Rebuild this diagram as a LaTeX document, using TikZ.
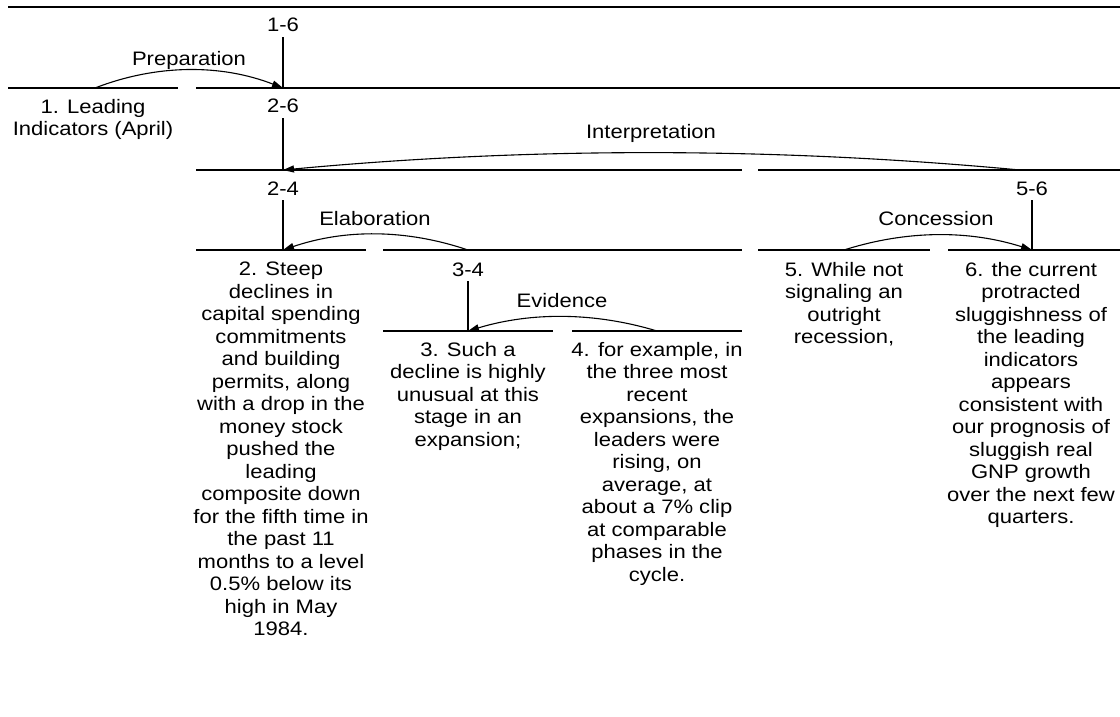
\documentclass[tikz,border=0pt]{standalone}
\usepackage{fontspec}
\setmainfont{Liberation Sans}[FakeStretch=1.13]
\usetikzlibrary{arrows.meta}
\newcommand{\rstfont}{\fontsize{19.5}{22.5}\selectfont}
\begin{document}
\begin{tikzpicture}[x=1pt,y=-1pt,
  bar/.style={line width=1.4pt},
  stem/.style={line width=1.4pt},
  rel/.style={line width=1.1pt,-{Triangle[length=11pt,width=7pt]}},
  lab/.style={inner sep=0pt,anchor=base,font=\rstfont},
  seg/.style={inner sep=0pt,anchor=north,align=center,font=\rstfont}]
\useasboundingbox[fill=white] (0,0) rectangle (1120,717);
% horizontal bars
\draw[bar] (8,7) -- (1120,7);
\draw[bar] (8,88) -- (178,88);
\draw[bar] (196,88) -- (1120,88);
\draw[bar] (196,170) -- (742,170);
\draw[bar] (758,170) -- (1120,170);
\draw[bar] (196,250) -- (366,250);
\draw[bar] (383,250) -- (742,250);
\draw[bar] (758,250) -- (930,250);
\draw[bar] (948,250) -- (1120,250);
\draw[bar] (383,331) -- (553,331);
\draw[bar] (572,331) -- (742,331);
% span labels
\node[lab] (s16) at (283,32) {1-6};
\node[lab] (s26) at (283,113) {2-6};
\node[lab] (s24) at (283,195) {2-4};
\node[lab] (s56) at (1032,195) {5-6};
\node[lab] (s34) at (468,276) {3-4};
% attachment points
\coordinate (n16) at (283,88);
\coordinate (n26) at (283,170);
\coordinate (n24) at (283,250);
\coordinate (n56) at (1032,250);
\coordinate (n34) at (468,331);
\coordinate (p1) at (95,88);
\coordinate (p56) at (1020,170);
\coordinate (p34) at (468,250);
\coordinate (p5) at (844,250);
\coordinate (p4) at (657,331);
% stems
\draw[stem] ([yshift=-5pt]s16.south) -- (n16);
\draw[stem] ([yshift=-5pt]s26.south) -- (n26);
\draw[stem] ([yshift=-5pt]s24.south) -- (n24);
\draw[stem] ([yshift=-5pt]s56.south) -- (n56);
\draw[stem] ([yshift=-5pt]s34.south) -- (n34);
% relations
\draw[rel] (p1) .. controls +(62,-24) and +(-62,-24) .. (n16);
\node[lab] (rprep) at (189,66) {Preparation};
\draw[rel] (p56) .. controls +(-246,-23) and +(246,-23) .. (n26);
\node[lab] (rint) at (651,139) {Interpretation};
\draw[rel] (p34) .. controls +(-62,-21) and +(62,-21) .. (n24);
\node[lab] (relab) at (375,225) {Elaboration};
\draw[rel] (p5) .. controls +(63,-20) and +(-63,-20) .. (n56);
\node[lab] (rcon) at (936,225) {Concession};
\draw[rel] (p4) .. controls +(-63,-19) and +(63,-19) .. (n34);
\node[lab] (rev) at (562,307) {Evidence};
% segments
\node[seg] (e1) at (93,99) {1. Leading\\Indicators (April)};
\node[seg] (e2) at (281,262) {2. Steep\\declines in\\capital spending\\commitments\\and building\\permits, along\\with a drop in the\\money stock\\pushed the\\leading\\composite down\\for the fifth time in\\the past 11\\months to a level\\0.5\% below its\\high in May\\1984.};
\node[seg] (e3) at (468,342) {3. Such a\\decline is highly\\unusual at this\\stage in an\\expansion;};
\node[seg] (e4) at (657,342) {4. for example, in\\the three most\\recent\\expansions, the\\leaders were\\rising, on\\average, at\\about a 7\% clip\\at comparable\\phases in the\\cycle.};
\node[seg] (e5) at (844,262) {5. While not\\signaling an\\outright\\recession,};
\node[seg] (e6) at (1031,262) {6. the current\\protracted\\sluggishness of\\the leading\\indicators\\appears\\consistent with\\our prognosis of\\sluggish real\\GNP growth\\over the next few\\quarters.};
\end{tikzpicture}
\end{document}
